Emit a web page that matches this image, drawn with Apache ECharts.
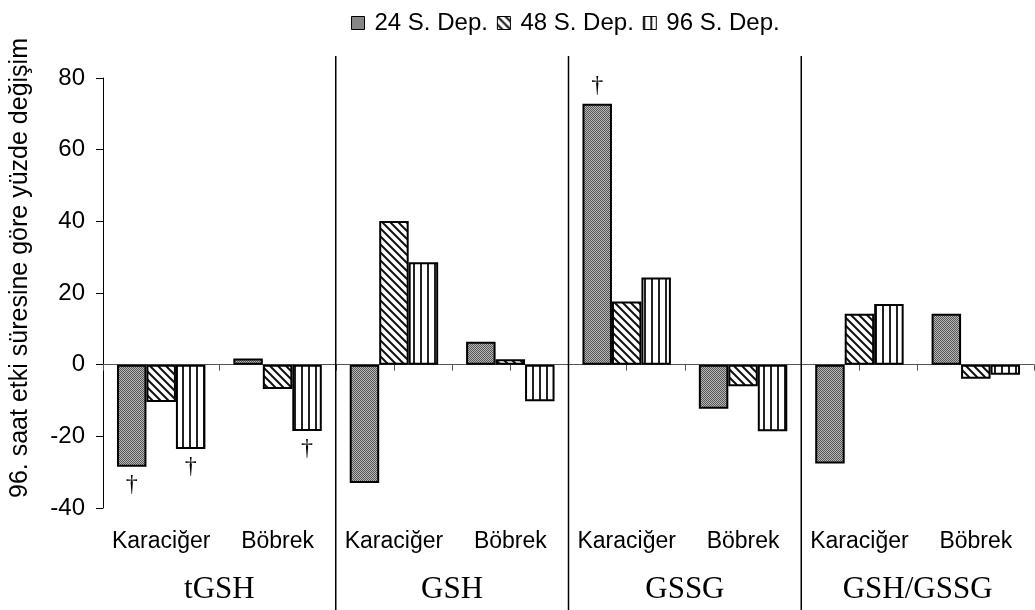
<!DOCTYPE html>
<html><head><meta charset="utf-8">
<script src="https://cdn.jsdelivr.net/npm/echarts@6/dist/echarts.min.js"></script>
<style>html,body{margin:0;padding:0;background:#fff}#c{width:1035px;height:610px}</style>
</head><body><div id="c"></div>
<script>
const categories = ['Karaciğer','Böbrek','Karaciğer','Böbrek','Karaciğer','Böbrek','Karaciğer','Böbrek'];
const groups = ['tGSH','GSH','GSSG','GSH/GSSG'];
const seriesNames = ['24 S. Dep.','48 S. Dep.','96 S. Dep.'];
const dep24 = [-28.5, 1.7, -33.0, 6.4, 72.8, -12.3, -27.6, 14.2];
const dep48 = [-10.4, -6.8, 40.1, 1.5, 17.6, -6.0, 14.2, -3.9];
const dep96 = [-23.5, -18.5, 28.6, -10.2, 24.3, -18.6, 16.9, -2.8];
const sig24 = [1,0,0,0,1,0,0,0];
const sig48 = [0,0,0,0,0,0,0,0];
const sig96 = [1,1,0,0,0,0,0,0];
const yMin = -40, yMax = 80, yStep = 20;
const yName = '96. saat etki süresine göre yüzde değişim';

function mk(w,h,draw){const c=document.createElement('canvas');c.width=w;c.height=h;const g=c.getContext('2d');g.fillStyle='#fff';g.fillRect(0,0,w,h);draw(g);return {image:c,repeat:'repeat'};}
const pat24 = mk(2,2,g=>{g.fillStyle='#b8b8b8';g.fillRect(0,0,2,2);g.fillStyle='#555';g.fillRect(0,0,1,1);g.fillRect(1,1,1,1);});
const pat48 = mk(8,8,g=>{g.strokeStyle='#111';g.lineWidth=2;g.beginPath();g.moveTo(-2,-2);g.lineTo(10,10);g.moveTo(-10,-2);g.lineTo(2,10);g.moveTo(6,-2);g.lineTo(18,10);g.stroke();});
const pat96 = mk(7,4,g=>{g.fillStyle='#222';g.fillRect(0,0,2,4);});
const pats = [pat24, pat48, pat96];
const vals = [dep24, dep48, dep96];
const sigs = [sig24, sig48, sig96];

const chart = echarts.init(document.getElementById('c'), null, {renderer:'canvas'});
const F = 'Liberation Sans';
chart.setOption({
  animation:false,
  backgroundColor:'#fff',
  grid:{left:100, right:1, top:78, bottom:102, containLabel:false},
  legend:{left:346, top:6, icon:'rect', itemWidth:13, itemHeight:13, itemGap:9, data:seriesNames,
    textStyle:{fontSize:24, color:'#000', fontFamily:F, padding:[0,0,0,5]},
    itemStyle:{borderWidth:1, borderColor:'#000'}},
  xAxis:[
    {type:'category', data:categories, position:'bottom', axisLine:{show:false,onZero:false}, axisTick:{show:false}, splitLine:{show:false},
     axisLabel:{interval:0, margin:22, fontSize:23, color:'#000', fontFamily:F}},
    {type:'category', data:new Array(16).fill(''), position:'bottom', axisLine:{show:true,onZero:true,lineStyle:{color:'#555',width:1}},
     axisTick:{show:true,length:6,lineStyle:{color:'#555'}}, axisLabel:{show:false}, splitLine:{show:false}},
    {type:'category', data:groups, position:'bottom', axisLine:{show:false,onZero:false}, axisTick:{show:false}, splitLine:{show:false},
     axisLabel:{interval:0, margin:66, fontSize:31, color:'#000', fontFamily:'Liberation Serif'}}
  ],
  yAxis:{type:'value', min:yMin, max:yMax, interval:yStep,
    axisLine:{show:true,lineStyle:{color:'#000',width:1}}, axisTick:{show:true,length:7,lineStyle:{color:'#000'}},
    splitLine:{show:false},
    axisLabel:{fontSize:24, color:'#000', margin:18, fontFamily:F},
    name:yName, nameLocation:'middle', nameGap:70, nameRotate:90,
    nameTextStyle:{fontSize:25, color:'#000', fontFamily:F, padding:[0,0,0,50]}},
  series: seriesNames.map((n,k)=>({
    name:n, type:'bar', xAxisIndex:0, barGap:'0%', barCategoryGap:'24%',
    itemStyle:{color:pats[k], borderColor:'#000', borderWidth:2},
    label:{show:false, position:'outside', distance:6, formatter:'†', fontSize:24, fontFamily:'Liberation Serif', color:'#000'},
    data: vals[k].map((v,i)=> sigs[k][i] ? {value:v, label:{show:true}} : v)
  }))
});
const xs = [1,3,5].map(i => (chart.convertToPixel({xAxisIndex:0}, i) + chart.convertToPixel({xAxisIndex:0}, i+1))/2);
chart.setOption({graphic: xs.map(x=>({type:'line', z:10, shape:{x1:x,y1:56,x2:x,y2:610}, style:{stroke:'#000', lineWidth:1.5}}))});
</script></body></html>
